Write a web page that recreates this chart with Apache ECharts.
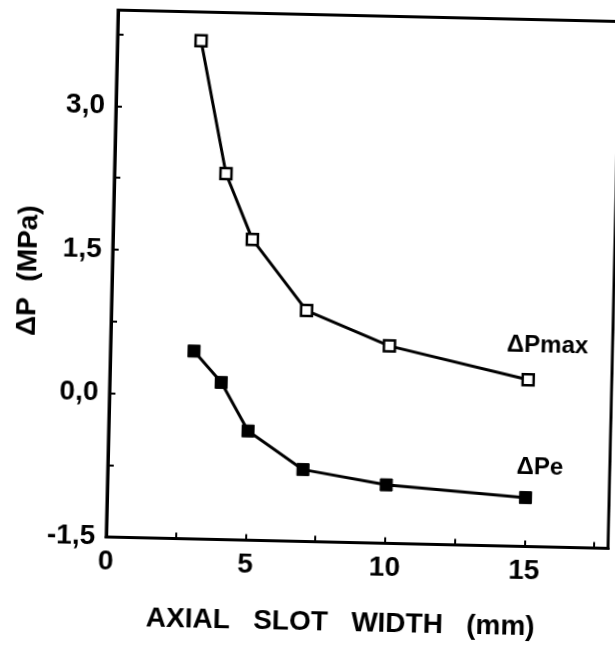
<!DOCTYPE html>
<html>
<head>
<meta charset="utf-8">
<script src="https://cdn.jsdelivr.net/npm/echarts@6/dist/echarts.min.js"></script>
<style>
  html, body { margin: 0; padding: 0; background: #fff; }
  #chart {
    width: 615px; height: 652px;
    transform: rotate(1.3deg);
    transform-origin: 50% 50%;
  }
</style>
</head>
<body>
<div id="chart"></div>
<script>
// Axial slot width (mm)
const slotWidth = [3, 4, 5, 7, 10, 15];
// Maximum pressure difference (MPa)
const dPmax = [3.70, 2.32, 1.64, 0.91, 0.56, 0.24];
// Pressure difference ΔPe (MPa)
const dPe = [0.46, 0.14, -0.36, -0.75, -0.89, -0.99];

// Labelled tick values
const xLabelValues = [0, 5, 10, 15];
const yLabelValues = [-1.5, 0, 1.5, 3.0];

const FONT = '"Liberation Sans", Arial, Helvetica, sans-serif';

function pair(xs, ys) { return xs.map((x, i) => [x, ys[i]]); }
function isIn(list, v) { return list.some(t => Math.abs(t - v) < 1e-6); }

const chart = echarts.init(document.getElementById('chart'), null, { renderer: 'canvas' });

const axisCommon = {
  axisLine: { show: true, onZero: false, lineStyle: { color: '#000', width: 3 } },
  axisTick: { show: true, inside: true, length: 6, lineStyle: { color: '#000', width: 2 } },
  splitLine: { show: false }
};

chart.setOption({
  backgroundColor: '#fff',
  animation: false,
  grid: {
    left: 111, top: 14.5, width: 502, height: 527,
    show: true, borderColor: '#000', borderWidth: 3, backgroundColor: 'transparent'
  },
  xAxis: Object.assign({
    type: 'value', min: 0, max: 18, interval: 2.5,
    axisLabel: {
      margin: 11, color: '#000', fontFamily: FONT, fontWeight: 'bold', fontSize: 28,
      showMaxLabel: false,
      formatter: v => isIn(xLabelValues, v) ? String(v) : ''
    }
  }, axisCommon),
  yAxis: Object.assign({
    type: 'value', min: -1.5, max: 4.0, interval: 0.75,
    axisLabel: {
      margin: 11, color: '#000', fontFamily: FONT, fontWeight: 'bold', fontSize: 28,
      showMaxLabel: false,
      formatter: v => isIn(yLabelValues, v) ? v.toFixed(1).replace('.', ',') : ''
    }
  }, axisCommon),
  graphic: [
    {
      type: 'text', x: 347, y: 622,
      style: {
        text: 'AXIAL   SLOT   WIDTH   (mm)', fill: '#000',
        font: 'bold 28px ' + FONT, textAlign: 'center', textVerticalAlign: 'middle'
      }
    },
    {
      type: 'text', x: 27, y: 277, rotation: Math.PI / 2,
      style: {
        text: 'ΔP  (MPa)', fill: '#000',
        font: 'bold 28px ' + FONT, textAlign: 'center', textVerticalAlign: 'middle'
      }
    },
    {
      type: 'text', x: 548, y: 340,
      style: {
        text: 'ΔPmax', fill: '#000',
        font: 'bold 24px ' + FONT, textAlign: 'center', textVerticalAlign: 'middle'
      }
    },
    {
      type: 'text', x: 543, y: 462,
      style: {
        text: 'ΔPe', fill: '#000',
        font: 'bold 24px ' + FONT, textAlign: 'center', textVerticalAlign: 'middle'
      }
    }
  ],
  series: [
    {
      name: 'ΔPmax', type: 'line', data: pair(slotWidth, dPmax),
      symbol: 'rect', symbolSize: 11,
      lineStyle: { color: '#000', width: 3 },
      itemStyle: { color: '#fff', borderColor: '#000', borderWidth: 2.5 },
      z: 3
    },
    {
      name: 'ΔPe', type: 'line', data: pair(slotWidth, dPe),
      symbol: 'rect', symbolSize: 12,
      lineStyle: { color: '#000', width: 3 },
      itemStyle: { color: '#000', borderColor: '#000', borderWidth: 1 },
      z: 3
    }
  ]
});
</script>
</body>
</html>
